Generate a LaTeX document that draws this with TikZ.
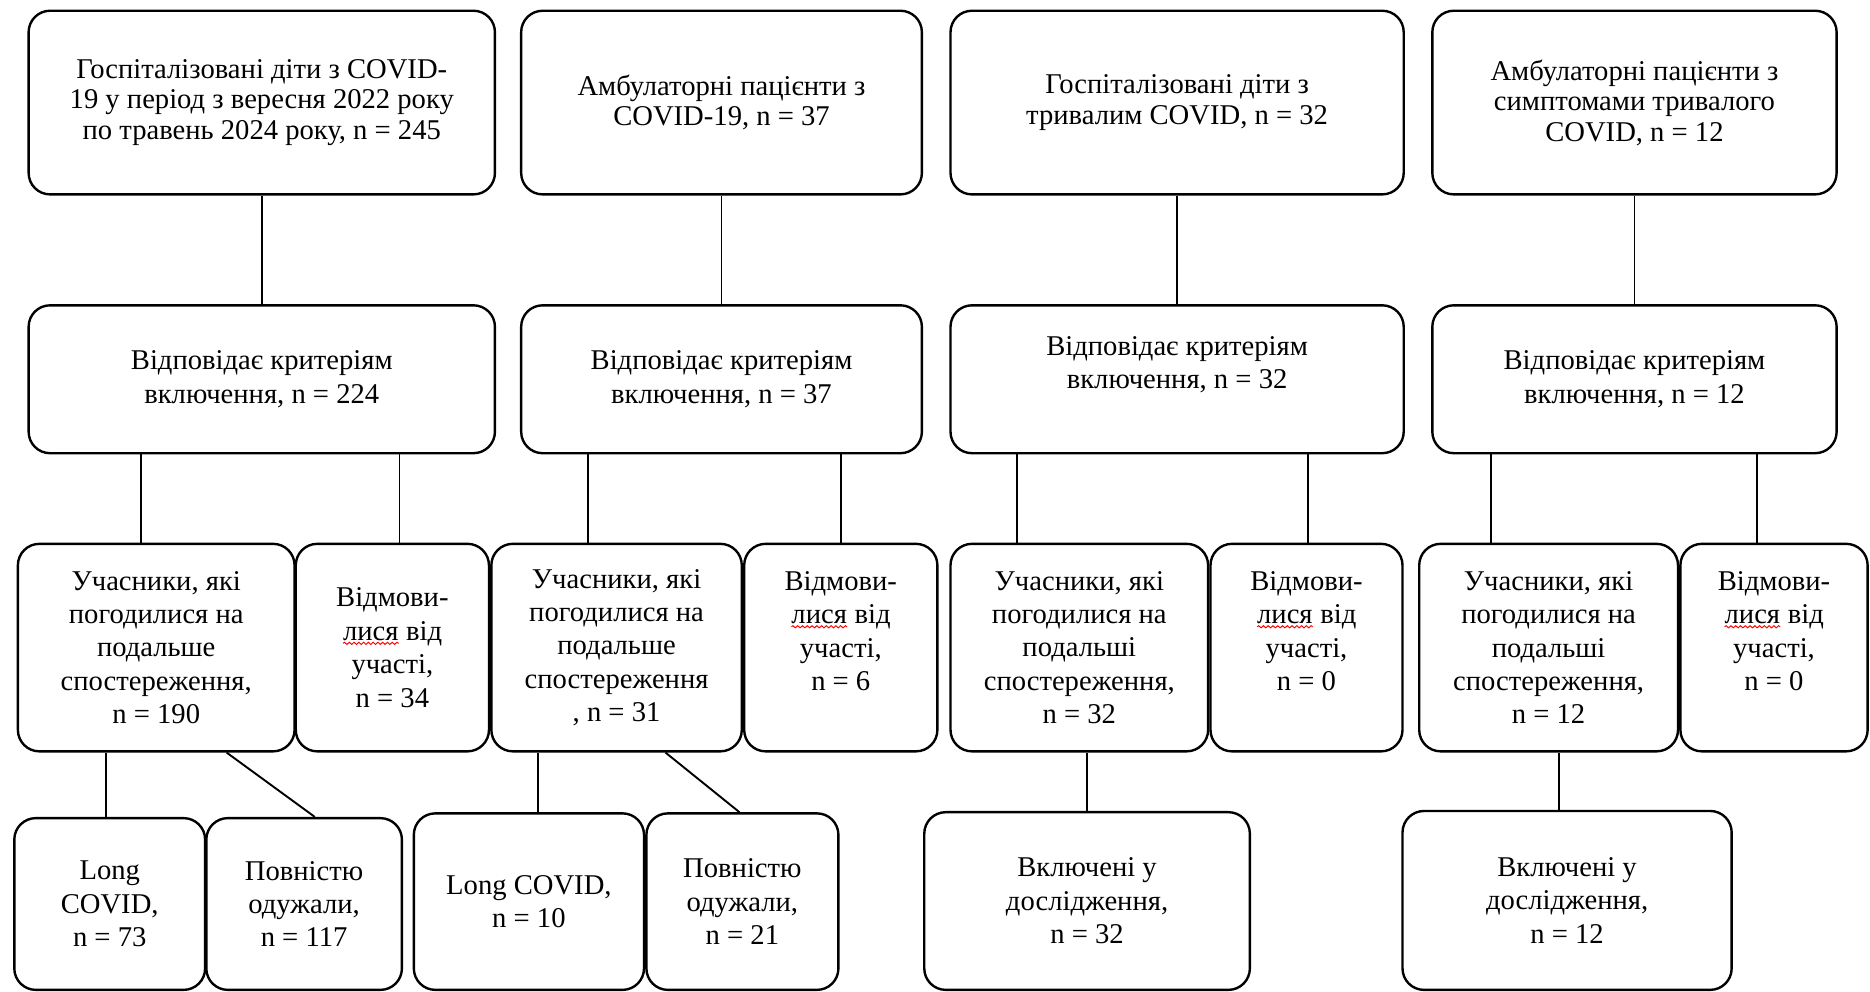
\documentclass[tikz,border=0pt]{standalone}
\usepackage{fontspec}
\setmainfont{Liberation Serif}
\usetikzlibrary{decorations.pathmorphing}
\newcommand\sqw[1]{\tikz[baseline=(sqw.base),x=1pt,y=1pt]{\node[inner sep=0pt,outer sep=0pt,draw=none,minimum width=0pt,minimum height=0pt,anchor=base,rounded corners=0pt] (sqw) {#1};\draw[red,line width=0.4pt,sharp corners,decorate,decoration={snake,amplitude=0.45pt,segment length=2pt}] ([yshift=-1.3pt]sqw.base west) -- ([yshift=-1.3pt]sqw.base east);}}
\tikzset{
  box/.style={draw, line width=1pt, rounded corners=9pt, align=center, inner sep=2pt, font=\fontsize{12}{14}\selectfont},
  topbox/.style={box, font=\fontsize{12}{12.8}\selectfont},
  conn/.style={line width=0.8pt}
}
\begin{document}
\begin{tikzpicture}[x=0.5pt,y=-0.5pt]
\useasboundingbox (0,0) rectangle (1568,831);
% row 1
\node[topbox, minimum width=195.5pt, minimum height=77pt] (A1) at (219.5,86) {Госпіталізовані діти з COVID-\\19 у період з вересня 2022 року\\по травень 2024 року, n = 245};
\node[topbox, minimum width=168pt, minimum height=77pt] (B1) at (605,86) {Амбулаторні пацієнти з\\COVID-19, n = 37};
\node[topbox, minimum width=190pt, minimum height=77pt] (C1) at (987,86) {Госпіталізовані діти з\\тривалим COVID, n = 32};
\node[topbox, minimum width=169.5pt, minimum height=77pt] (D1) at (1370.5,86) {Амбулаторні пацієнти з\\симптомами тривалого\\COVID, n = 12};
% row 2
\node[box, minimum width=195.5pt, minimum height=62pt] (A2) at (219.5,318) {Відповідає критеріям\\включення, n = 224};
\node[box, minimum width=168pt, minimum height=62pt] (B2) at (605,318) {Відповідає критеріям\\включення, n = 37};
\node[box, minimum width=190pt, minimum height=62pt] (C2) at (987,318) {Відповідає критеріям\\включення, n = 32\\\mbox{}};
\node[box, minimum width=169.5pt, minimum height=62pt] (D2) at (1370.5,318) {Відповідає критеріям\\включення, n = 12};
% row 3
\node[box, minimum width=116pt, minimum height=87pt] (A3) at (131,543) {Учасники, які\\погодилися на\\подальше\\спостереження,\\n = 190};
\node[box, minimum width=81pt, minimum height=87pt] (A3r) at (329,543) {Відмови-\\\sqw{лися} від\\участі,\\n = 34};
\node[box, minimum width=105pt, minimum height=87pt] (B3) at (517,543) {Учасники, які\\погодилися на\\подальше\\спостереження\\, n = 31};
\node[box, minimum width=81pt, minimum height=87pt] (B3r) at (705,543) {Відмови-\\\sqw{лися} від\\участі,\\n = 6\\\mbox{}};
\node[box, minimum width=108pt, minimum height=87pt] (C3) at (905,543) {Учасники, які\\погодилися на\\подальші\\спостереження,\\n = 32};
\node[box, minimum width=80.5pt, minimum height=87pt] (C3r) at (1095.5,543) {Відмови-\\\sqw{лися} від\\участі,\\n = 0\\\mbox{}};
\node[box, minimum width=108.5pt, minimum height=87pt] (D3) at (1298.5,543) {Учасники, які\\погодилися на\\подальші\\спостереження,\\n = 12};
\node[box, minimum width=78.5pt, minimum height=87pt] (D3r) at (1487.5,543) {Відмови-\\\sqw{лися} від\\участі,\\n = 0\\\mbox{}};
% row 4
\node[box, minimum width=80pt, minimum height=72pt] (A4a) at (92,758) {Long\\COVID,\\n = 73};
\node[box, minimum width=82pt, minimum height=72pt] (A4b) at (255,758) {Повністю\\одужали,\\n = 117};
\node[box, minimum width=96.5pt, minimum height=74pt] (B4a) at (443.5,756) {Long COVID,\\n = 10};
\node[box, minimum width=80.5pt, minimum height=74pt] (B4b) at (622.5,756) {Повністю\\одужали,\\n = 21};
\node[box, minimum width=136.5pt, minimum height=74.5pt] (C4) at (911.5,755.5) {Включені у\\дослідження,\\n = 32};
\node[box, minimum width=138pt, minimum height=75pt] (D4) at (1314,755) {Включені у\\дослідження,\\n = 12};
% connectors row1-row2
\draw[conn] (A1.south) -- (A2.north);
\draw[conn] (B1.south) -- (B2.north);
\draw[conn] (C1.south) -- (C2.north);
\draw[conn] (D1.south) -- (D2.north);
% row2-row3
\draw[conn] ([xshift=-6.5pt]A3.north) -- ([xshift=-6.5pt]A3.north |- A2.south);
\draw[conn] ([xshift=3pt]A3r.north) -- ([xshift=3pt]A3r.north |- A2.south);
\draw[conn] ([xshift=-12pt]B3.north) -- ([xshift=-12pt]B3.north |- B2.south);
\draw[conn] (B3r.north) -- (B3r.north |- B2.south);
\draw[conn] ([xshift=-26pt]C3.north) -- ([xshift=-26pt]C3.north |- C2.south);
\draw[conn] ([xshift=0.75pt]C3r.north) -- ([xshift=0.75pt]C3r.north |- C2.south);
\draw[conn] ([xshift=-24.25pt]D3.north) -- ([xshift=-24.25pt]D3.north |- D2.south);
\draw[conn] ([xshift=-7.25pt]D3r.north) -- ([xshift=-7.25pt]D3r.north |- D2.south);
% row3-row4
\draw[conn] ([xshift=-1.5pt]A4a.north) -- ([xshift=-1.5pt]A4a.north |- A3.south);
\draw[conn] ([xshift=29.5pt]A3.south) -- ([xshift=4.5pt]A4b.north);
\draw[conn] ([xshift=3.75pt]B4a.north) -- ([xshift=3.75pt]B4a.north |- B3.south);
\draw[conn] ([xshift=20.5pt]B3.south) -- ([xshift=-1.25pt]B4b.north);
\draw[conn] (C4.north) -- (C4.north |- C3.south);
\draw[conn] ([xshift=-3.5pt]D4.north) -- ([xshift=-3.5pt]D4.north |- D3.south);
\end{tikzpicture}
\end{document}
